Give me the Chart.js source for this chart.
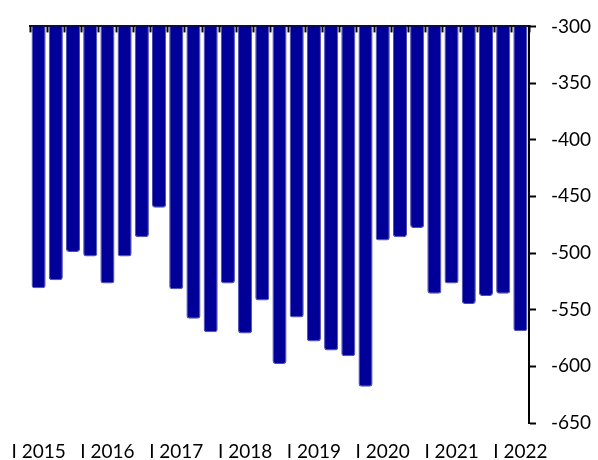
<!DOCTYPE html>
<html>
<head>
<meta charset="utf-8">
<script src="https://cdn.jsdelivr.net/npm/chart.js@4"></script>
<style>
  html, body { margin: 0; padding: 0; background: #fff; }
  #wrap { width: 598px; height: 460px; }
</style>
</head>
<body>
<div id="wrap"><canvas id="chart" width="598" height="460"></canvas></div>
<script>
const quarters = [
  'I 2015', 'II 2015', 'III 2015', 'IV 2015',
  'I 2016', 'II 2016', 'III 2016', 'IV 2016',
  'I 2017', 'II 2017', 'III 2017', 'IV 2017',
  'I 2018', 'II 2018', 'III 2018', 'IV 2018',
  'I 2019', 'II 2019', 'III 2019', 'IV 2019',
  'I 2020', 'II 2020', 'III 2020', 'IV 2020',
  'I 2021', 'II 2021', 'III 2021', 'IV 2021',
  'I 2022'
];
const values = [
  -531, -524, -499, -503,
  -527, -503, -486, -460,
  -532, -558, -570, -527,
  -571, -542, -598, -557,
  -578, -586, -591, -618,
  -489, -486, -478, -536,
  -527, -545, -538, -536,
  -569
];
const yTicks = { min: -650, max: -300, step: 50 };

const FONT = 'Lato, "Open Sans", sans-serif';

new Chart(document.getElementById('chart'), {
  type: 'bar',
  data: {
    labels: quarters,
    datasets: [{
      data: values,
      backgroundColor: '#000099',
      borderColor: '#4a4ab8',
      borderWidth: 1,
      borderRadius: 3,
      borderSkipped: 'start',
      barPercentage: 0.82,
      categoryPercentage: 1
    }]
  },
  options: {
    responsive: false,
    animation: false,
    layout: { padding: { left: 30, right: 0, top: 0, bottom: 0 } },
    plugins: { legend: { display: false }, tooltip: { enabled: false } },
    scales: {
      x: {
        position: 'bottom',
        grid: { display: false },
        border: { display: false },
        ticks: {
          autoSkip: false,
          maxRotation: 0,
          padding: 9,
          color: '#000',
          font: { family: FONT, size: 19 },
          callback: function (v, i) {
            const lab = quarters[i];
            return lab.startsWith('I ') ? lab : '';
          }
        },
        afterFit: s => { s.height = 37; s.paddingLeft = 0; s.paddingRight = 0; }
      },
      x2: {
        type: 'category',
        labels: quarters,
        position: 'top',
        offset: true,
        z: 1,
        grid: {
          offset: true,
          drawOnChartArea: false,
          drawTicks: true,
          tickLength: -6,
          tickWidth: 2,
          tickColor: '#000'
        },
        border: { display: true, color: '#111', width: 2 },
        ticks: { display: false },
        afterFit: s => { s.height = 23; s.paddingLeft = 0; s.paddingRight = 0; }
      },
      y: {
        position: 'right',
        min: yTicks.min,
        max: yTicks.max,
        grid: {
          drawOnChartArea: false,
          drawTicks: true,
          tickLength: 7,
          tickWidth: 2,
          tickColor: '#000'
        },
        border: { display: true, color: '#000', width: 2 },
        ticks: {
          stepSize: yTicks.step,
          padding: 15,
          color: '#000',
          font: { family: FONT, size: 19 }
        },
        afterFit: s => { s.width = 69; }
      }
    }
  }
});
</script>
</body>
</html>
